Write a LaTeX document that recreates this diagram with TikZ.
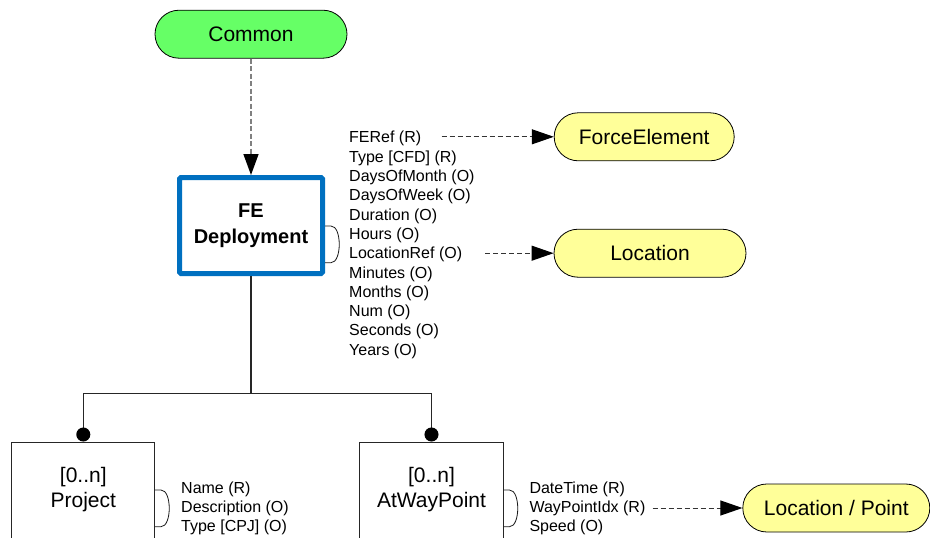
\documentclass[tikz,border=0pt]{standalone}
\usepackage{fontspec}
\setmainfont{Liberation Sans}
\usetikzlibrary{arrows.meta,shapes.misc}
\definecolor{pillgreen}{HTML}{66FF66}
\definecolor{pillyellow}{HTML}{FFFF99}
\definecolor{feblue}{HTML}{0070C0}
\begin{document}
\begin{tikzpicture}[x=1pt,y=-1pt,
  pill/.style={rounded rectangle, rounded rectangle arc length=180, draw=black, line width=0.8pt, minimum height=48pt, inner sep=0pt, font=\fontsize{21}{25}\selectfont},
  entity/.style={draw=black!85, line width=1pt, minimum width=143pt, minimum height=96pt, align=center, inner sep=0pt, font=\fontsize{21}{25}\selectfont},
  mainentity/.style={draw=feblue, line width=5pt, rounded corners=1.5pt, minimum width=143pt, minimum height=96pt, align=center, inner sep=0pt, font=\fontsize{20}{26}\selectfont\bfseries},
  attrs/.style={anchor=west, align=left, inner sep=0pt, font=\fontsize{16}{19.3}\selectfont},
  refarrow/.style={draw=black!80, line width=1pt, dash pattern=on 5pt off 3pt, -{Triangle[length=22pt,width=15pt,color=black]}},
  inhertarrow/.style={draw=black!50, line width=1.5pt, dash pattern=on 5pt off 2.5pt, -{Triangle[length=21pt,width=15pt,color=black]}},
  relline/.style={draw=black!85, line width=1.5pt},
  dotend/.style={relline, -{Circle[length=14pt,color=black]}},
  bracestyle/.style={draw=black!90, line width=0.8pt}
]
\useasboundingbox (0,0) rectangle (930,538);

% nodes
\node[pill, fill=pillgreen, minimum width=192pt] (common) at (251,34.2) {Common};
\node[mainentity] (fe) at (251,225.5) {FE\\Deployment};
\node[pill, fill=pillyellow, minimum width=180pt] (forceel) at (644.2,136.8) {ForceElement};
\node[pill, fill=pillyellow, minimum width=192pt] (loc) at (650,253.2) {Location};
\node[pill, fill=pillyellow, minimum width=187pt] (locpt) at (836.3,508) {Location / Point};
\node[entity] (proj) at (83.3,490) {[0..n]\\Project};
\node[entity, minimum width=144pt] (awp) at (431.5,490) {[0..n]\\AtWayPoint};

% attribute lists
\node[attrs] (feattrs) at (349,245) {FERef (R)\\Type [CFD] (R)\\DaysOfMonth (O)\\DaysOfWeek (O)\\Duration (O)\\Hours (O)\\LocationRef (O)\\Minutes (O)\\Months (O)\\Num (O)\\Seconds (O)\\Years (O)};
\node[attrs] (projattrs) at (181,508.5) {Name (R)\\Description (O)\\Type [CPJ] (O)};
\node[attrs] (awpattrs) at (529.3,508.5) {DateTime (R)\\WayPointIdx (R)\\Speed (O)};

% braces
\draw[bracestyle] (325,226) -- (331,226) .. controls (342,226) and (342,262.7) .. (331,262.7) -- (325,262.7);
\draw[bracestyle] (155,490) -- (161,490) .. controls (172,490) and (172,526.7) .. (161,526.7) -- (155,526.7);
\draw[bracestyle] (503.5,490) -- (509.5,490) .. controls (520.5,490) and (520.5,526.7) .. (509.5,526.7) -- (503.5,526.7);

% coordinates
\coordinate (ferefend) at (441.7,136.8);
\coordinate (locrefend) at (485,253.2);
\coordinate (wpend) at (652.7,508);
\coordinate (junction) at (251,393.5);

% connectors
\draw[inhertarrow] (common.south) -- (fe.north);
\draw[refarrow] (ferefend) -- (forceel.west);
\draw[refarrow] (locrefend) -- (loc.west);
\draw[refarrow] (wpend) -- (locpt.west);
\draw[relline] (fe.south) -- (junction);
\draw[dotend] (junction) -| (proj.north);
\draw[dotend] (junction) -| (awp.north);
\end{tikzpicture}
\end{document}
